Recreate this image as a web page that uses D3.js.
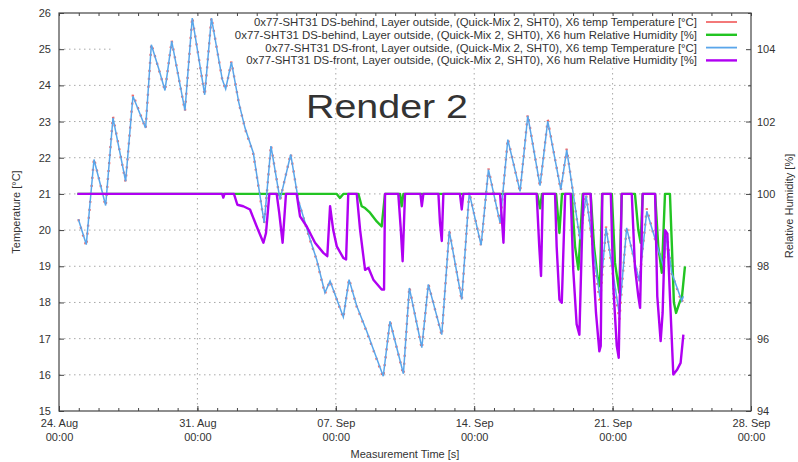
<!DOCTYPE html>
<html>
<head>
<meta charset="utf-8">
<script src="https://cdn.jsdelivr.net/npm/d3@7"></script>
<style>
  body { margin: 0; background: #fff; }
  svg text { font-family: "Liberation Sans", Arial, sans-serif; fill: #333; }
</style>
</head>
<body>
<script>

  // time given as days after 24 Aug 00:00
  const tempDays = [0.98,1.38,1.77,2.36,2.73,3.37,3.74,4.38,4.67,5.06,5.36,5.70,6.37,6.74,7.37,
    7.71,8.26,8.43,8.72,9.10,9.41,9.83,10.38,10.72,11.18,11.72,12.10,12.70,13.03,13.45,
    13.71,14.38,14.67,15.06,15.56,16.40,16.74,17.42,17.72,18.35,18.68,19.36,19.74,20.37,20.75,
    21.35,21.72,22.31,22.70,23.32,23.71,24.33,24.72,25.38,25.68,26.35,26.66,27.36,27.67,28.34,
    28.71,29.35,29.73,30.06,30.57,30.74,30.99,31.50,31.58]
  const tempFront = [20.3,19.6,21.95,20.68,23.1,21.35,23.7,22.82,25.12,24.43,23.86,25.22,23.31,25.86,23.74,
    25.86,24.16,23.9,24.64,23.51,22.82,22.13,20.2,22.32,20.84,22.09,20.84,19.74,19.19,18.27,
    18.59,17.6,18.63,17.9,17.21,15.96,17.48,16.03,18.4,16.75,18.5,17.11,19.97,18.08,21.03,
    19.58,21.67,20.2,22.5,21.07,23.16,21.23,23.01,21.12,22.22,19.74,20.95,18.13,20.06,17.67,
    20.06,18.59,20.52,19.92,19.0,19.85,18.82,18.04,18.17]
  const tempBehind = [20.3,19.55,21.98,20.66,23.14,21.33,23.75,22.8,25.15,24.42,23.85,25.24,23.29,25.88,23.72,
    25.88,24.15,23.88,24.66,23.5,22.8,22.1,20.18,22.35,20.82,22.12,20.82,19.72,19.17,18.24,
    18.6,17.57,18.65,17.88,17.19,15.93,17.5,16.0,18.43,16.72,18.52,17.08,20.0,18.05,21.06,
    19.56,21.7,20.18,22.53,21.05,23.2,21.2,23.05,21.1,22.25,19.7,21.0,17.98,20.1,17.52,
    20.1,18.55,20.6,19.9,18.97,19.9,18.8,18.0,18.15]

  const humFrontDays = [0.93,8.25,8.31,8.37,8.85,9.02,9.32,9.66,10.0,10.34,10.47,10.64,11.01,11.14,11.31,
    11.48,12.02,12.19,12.53,12.95,13.37,13.57,13.71,13.87,14.05,14.38,14.52,14.63,15.06,15.23,
    15.48,15.65,15.9,16.32,16.44,16.49,17.16,17.28,17.38,17.5,18.28,18.35,18.43,19.19,19.27,
    19.36,19.44,20.28,20.37,20.45,22.31,22.4,22.48,22.56,24.16,24.29,24.38,24.47,25.09,25.17,
    25.31,25.43,25.6,25.88,26.01,26.18,26.32,26.44,26.52,26.89,26.99,27.16,27.33,27.4,27.48,
    27.91,28.04,28.21,28.31,28.38,28.46,28.97,29.13,29.3,29.39,29.52,30.15,30.26,30.43,30.53,
    30.65,30.77,30.9,31.07,31.27,31.44,31.58]
  const humFront = [100,100,99.9,100,100,99.7,99.66,99.57,99.1,98.65,98.92,100,100,99.47,98.65,
    100,100,99.38,99.1,98.65,98.37,98.28,99.66,99.0,98.55,98.23,98.19,100,100,99.0,
    97.9,97.96,97.63,97.36,97.36,100,100,99.08,98.14,100,100,99.66,100,100,99.2,
    98.7,100,100,99.57,100,100,99.3,98.65,100,100,98.55,97.73,100,100,98.55,
    97.08,96.99,100,100,97.9,96.4,96.11,98.55,100,100,98.37,96.71,95.65,95.8,100,
    100,97.4,95.8,95.47,97.6,100,100,97.97,97.17,96.85,100,100,97.17,95.93,96.71,
    99.0,98.9,97.17,95.01,95.15,95.33,96.11]

  const humBehindDays = [0.93,14.05,14.21,14.38,15.14,15.31,15.48,15.73,16.07,16.32,16.49,17.25,17.33,17.42,
    24.19,24.33,24.43,25.14,25.31,25.44,25.93,26.1,26.27,26.49,26.89,27.06,27.23,27.36,27.47,
    27.96,28.12,28.34,28.46,29.13,29.3,29.42,29.52,30.15,30.31,30.49,30.65,30.9,31.0,31.1,
    31.21,31.38,31.51,31.66]
  const humBehind = [100,100,99.89,100,100,99.66,99.61,99.48,99.24,99.1,100,100,99.66,100,
    100,99.6,100,100,98.92,100,100,98.55,97.91,100,100,98.55,97.73,97.45,100,
    100,98.1,97.27,100,100,99.0,98.65,100,100,98.55,97.82,100,100,98.55,97.0,
    96.71,96.99,97.17,98.0]

  const tempTicks = [15,16,17,18,19,20,21,22,23,24,25,26]
  const humTicks = [94,96,98,100,102,104]
  const legendLabels = [
    "0x77-SHT31 DS-behind, Layer outside, (Quick-Mix 2, SHT0), X6 temp Temperature [°C]",
    "0x77-SHT31 DS-behind, Layer outside, (Quick-Mix 2, SHT0), X6 hum Relative Humidity [%]",
    "0x77-SHT31 DS-front, Layer outside, (Quick-Mix 2, SHT0), X6 temp Temperature [°C]",
    "0x77-SHT31 DS-front, Layer outside, (Quick-Mix 2, SHT0), X6 hum Relative Humidity [%]"
  ]

  const colors = {red: '#f26a6a', green: '#22c422', blue: '#5aa6ea', magenta: '#b000f2', axis: '#444', grid: '#a8a8a8'}

  const W = 798, H = 462
  const plot = {left: 59, right: 751, top: 13, bottom: 411}

  const t0 = new Date(2021, 7, 24)
  const toDate = d => new Date(t0.getTime() + d*864e5)

  const xScale = d3.scaleTime()
    .domain([t0, new Date(2021, 8, 28)])
    .range([plot.left, plot.right])
  const yT = d3.scaleLinear().domain([15, 26]).range([plot.bottom, plot.top])
  const yH = d3.scaleLinear().domain([94, 105]).range([plot.bottom, plot.top])

  const svg = d3.select("body").append("svg")
      .attr("width", W)
      .attr("height", H)

  const weeks = d3.range(6).map(i => d3.timeDay.offset(t0, i*7))
  const days = d3.range(36).map(i => d3.timeDay.offset(t0, i))

  // grid
  const grid = svg.append("g")
    .attr("stroke", colors.grid)
    .attr("stroke-dasharray", "1.5,3.5")
  grid.selectAll(".hg").data(tempTicks.slice(1, -1)).enter().append("line")
      .attr("x1", plot.left).attr("x2", plot.right)
      .attr("y1", d => yT(d)).attr("y2", d => yT(d))
  grid.selectAll(".vg").data(weeks.slice(1, -1)).enter().append("line")
      .attr("x1", d => xScale(d)).attr("x2", d => xScale(d))
      .attr("y1", plot.top).attr("y2", plot.bottom)

  // opaque key box
  svg.append("rect")
      .attr("x", 114).attr("y", plot.top + 1)
      .attr("width", plot.right - 115).attr("height", 52)
      .attr("fill", "#fff")

  // axes
  svg.append("g")
      .attr("transform", `translate(${plot.left},0)`)
    .call(d3.axisLeft(yT).tickValues(tempTicks).tickSize(-5).tickPadding(8).tickFormat(d3.format("d")))
  svg.append("g")
      .attr("transform", `translate(${plot.right},0)`)
    .call(d3.axisRight(yH).tickValues(humTicks).tickSize(-5).tickPadding(6).tickFormat(d3.format("d")))
  svg.append("g")
      .attr("transform", `translate(${plot.right},0)`)
    .call(d3.axisRight(yH).tickValues([95,97,99,101,103,105]).tickSize(-3).tickFormat(""))
  const axisBottom = svg.append("g")
      .attr("transform", `translate(0,${plot.bottom})`)
    .call(d3.axisBottom(xScale).tickValues(weeks).tickSize(-5).tickPadding(8).tickFormat(d3.timeFormat("%d. %b")))
  svg.append("g")
      .attr("transform", `translate(0,${plot.bottom})`)
    .call(d3.axisBottom(xScale).tickValues(days).tickSize(-3).tickFormat(""))
  svg.append("g")
      .attr("transform", `translate(0,${plot.top})`)
    .call(d3.axisTop(xScale).tickValues(days).tickSize(-3).tickFormat(""))

  svg.selectAll(".domain").remove()
  svg.selectAll(".tick line").attr("stroke", colors.axis)
  svg.selectAll(".tick text").style("font-size", "11px").attr("fill", "#333")

  axisBottom.selectAll(".tick text").each(function(d) {
    const t = d3.select(this), label = t.text()
    t.text(null)
    t.append("tspan").attr("x", 0).attr("dy", "0.71em").text(label)
    t.append("tspan").attr("x", 0).attr("dy", "1.25em").text("00:00")
  }).attr("dy", null)

  svg.append("rect")
      .attr("x", plot.left).attr("y", plot.top)
      .attr("width", plot.right - plot.left).attr("height", plot.bottom - plot.top)
      .attr("fill", "none").attr("stroke", colors.axis).attr("stroke-width", 1.2)

  // series
  const lineT = d3.line().x(d => xScale(toDate(d[0]))).y(d => yT(d[1]))
  const lineH = d3.line().x(d => xScale(toDate(d[0]))).y(d => yH(d[1]))

  svg.append("path")
      .datum(d3.zip(tempDays, tempBehind))
      .attr("d", lineT)
      .attr("fill", "none").attr("stroke", colors.red).attr("stroke-width", 2.4)
      .attr("stroke-dasharray", "2,6")
  svg.append("path")
      .datum(d3.zip(humBehindDays, humBehind))
      .attr("d", lineH)
      .attr("fill", "none").attr("stroke", colors.green).attr("stroke-width", 2.4)
      .attr("stroke-linejoin", "round")
  svg.append("path")
      .datum(d3.zip(tempDays, tempFront))
      .attr("d", lineT)
      .attr("fill", "none").attr("stroke", colors.blue).attr("stroke-width", 1.5)
  svg.append("path")
      .datum(d3.zip(humFrontDays, humFront))
      .attr("d", lineH)
      .attr("fill", "none").attr("stroke", colors.magenta).attr("stroke-width", 2.4)
      .attr("stroke-linejoin", "round")

  // key
  const keyColors = [colors.red, colors.green, colors.blue, colors.magenta]
  const key = svg.append("g")
  legendLabels.forEach((label, i) => {
    const y = 22 + i*12.8
    key.append("text")
        .attr("x", 697).attr("y", y)
        .attr("dy", "0.35em")
        .attr("text-anchor", "end")
        .style("font-size", "11.4px")
        .attr("fill", "#222")
        .text(label)
    key.append("line")
        .attr("x1", 706).attr("x2", 737)
        .attr("y1", y).attr("y2", y)
        .attr("stroke", keyColors[i])
        .attr("stroke-width", i % 2 ? 2.4 : 1.8)
  })

  svg.append("text")
      .attr("x", 306).attr("y", 118)
      .style("font-size", "34px")
      .attr("fill", "#111")
      .attr("textLength", 162)
      .attr("lengthAdjust", "spacingAndGlyphs")
      .text("Render 2")

  // axis titles
  svg.append("text")
      .attr("transform", `translate(20,${(plot.top + plot.bottom)/2}) rotate(-90)`)
      .attr("text-anchor", "middle")
      .style("font-size", "11px")
      .text("Temperature [°C]")
  svg.append("text")
      .attr("transform", `translate(793,${(plot.top + plot.bottom)/2 - 6}) rotate(-90)`)
      .attr("text-anchor", "middle")
      .style("font-size", "11px")
      .text("Relative Humidity [%]")
  svg.append("text")
      .attr("x", (plot.left + plot.right)/2).attr("y", 458)
      .attr("text-anchor", "middle")
      .style("font-size", "11px")
      .text("Measurement Time [s]")

</script>
</body>
</html>
